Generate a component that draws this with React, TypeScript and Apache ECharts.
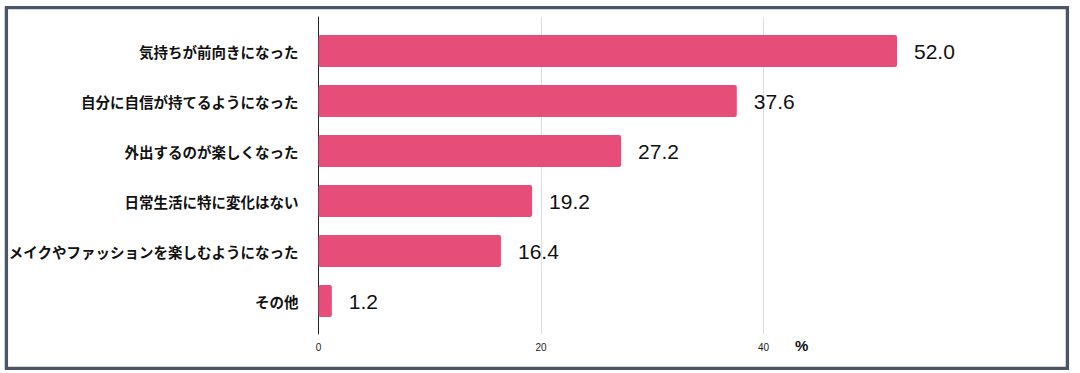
import React, { useEffect, useRef } from "react";
import * as echarts from "echarts";

const categories = [
  "気持ちが前向きになった",
  "自分に自信が持てるようになった",
  "外出するのが楽しくなった",
  "日常生活に特に変化はない",
  "メイクやファッションを楽しむようになった",
  "その他",
];
const values = [52.0, 37.6, 27.2, 19.2, 16.4, 1.2];
const xTicks = [0, 20, 40, 60];
const unitLabel = "%";

export default function App() {
  const ref = useRef<HTMLDivElement>(null);
  useEffect(() => {
    if (!ref.current) return;
    const chart = echarts.init(ref.current, null, { renderer: "svg" });
    const xMin = xTicks[0];
    const xMax = xTicks[xTicks.length - 1];
    const interval = xTicks[1] - xTicks[0];
    chart.setOption({
      animation: false,
      backgroundColor: "#ffffff",
      grid: [
        { left: 318.5, right: 94, top: 17, bottom: 39 },
        { left: 318.5, right: 94, top: 26, bottom: 47 },
      ],
      xAxis: [
        {
          type: "value",
          gridIndex: 0,
          min: xMin,
          max: xMax,
          interval,
          axisLine: { show: false },
          axisTick: { show: false },
          axisLabel: {
            show: true,
            fontSize: 10,
            color: "#222",
            margin: 8,
            fontFamily: "Liberation Sans, Arial, sans-serif",
            showMaxLabel: false,
          },
          splitLine: {
            show: true,
            lineStyle: {
              color: ["rgba(0,0,0,0)", "#dedede", "#dedede", "rgba(0,0,0,0)"],
              width: 1,
            },
          },
        },
        {
          type: "value",
          gridIndex: 1,
          min: xMin,
          max: xMax,
          interval,
          show: false,
        },
      ],
      yAxis: [
        {
          type: "category",
          gridIndex: 0,
          data: [""],
          axisLine: { show: true, lineStyle: { color: "#222", width: 1 } },
          axisTick: { show: false },
          axisLabel: { show: false },
          splitLine: { show: false },
        },
        {
          type: "category",
          gridIndex: 1,
          data: categories,
          inverse: true,
          axisLine: { show: false },
          axisTick: { show: false },
          axisLabel: {
            margin: 20,
            fontSize: 14.5,
            fontWeight: "bold",
            color: "#111",
            fontFamily: "Noto Sans CJK JP, sans-serif",
          },
        },
      ],
      series: [
        {
          type: "bar",
          xAxisIndex: 1,
          yAxisIndex: 1,
          data: values,
          barWidth: 32,
          itemStyle: { color: "#e64d79", borderRadius: 2 },
          label: {
            show: true,
            position: "right",
            distance: 17,
            fontSize: 21,
            color: "#111",
            fontFamily: "Liberation Sans, Arial, sans-serif",
            formatter: (p: any) => Number(p.value).toFixed(1),
          },
        },
      ],
      graphic: [
        {
          type: "rect",
          shape: { x: 6.4, y: 7.7, width: 1061, height: 360.6 },
          style: { fill: "none", stroke: "#4a5568", lineWidth: 3.3 },
          silent: true,
        },
        {
          type: "text",
          x: 795,
          y: 345,
          style: {
            text: unitLabel,
            fontSize: 15,
            fontWeight: "bold",
            fill: "#111",
            fontFamily: "Liberation Sans, Arial, sans-serif",
            verticalAlign: "middle",
          },
        },
      ],
    });
    return () => chart.dispose();
  }, []);
  return (
    <div
      ref={ref}
      style={{ position: "fixed", left: 0, top: 0, width: 1080, height: 373 }}
    />
  );
}
